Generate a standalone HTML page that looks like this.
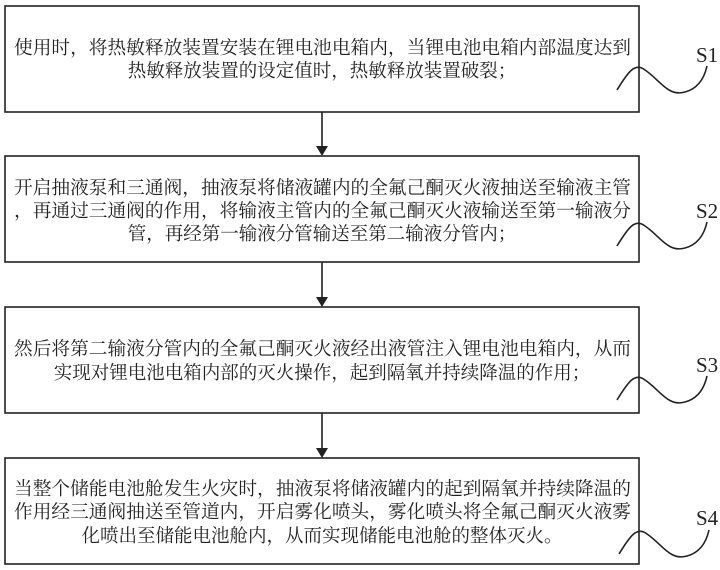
<!DOCTYPE html>
<html><head><meta charset="utf-8"><style>
html,body{margin:0;padding:0;background:#fff;}
svg{display:block;}
.t{font-family:"Liberation Serif","Noto Serif CJK SC",serif;font-size:18.5px;fill:#222;}
.s{font-family:"Liberation Serif",serif;font-size:21px;fill:#222;}
</style></head><body>
<svg width="720" height="570" viewBox="0 0 720 570" xmlns="http://www.w3.org/2000/svg">
<g fill="none" stroke="#222" stroke-width="1.6">
<rect x="5" y="6" width="634" height="106"/>
<rect x="5" y="156" width="634" height="106"/>
<rect x="5" y="307" width="634" height="106"/>
<rect x="5" y="458" width="634" height="106"/>
<line x1="322" y1="112" x2="322" y2="148"/>
<line x1="322" y1="262" x2="322" y2="299"/>
<line x1="322" y1="413" x2="322" y2="450"/>
<path d="M617 90 C628 72,635 62,645 70 C660 80,668 97,685 92 C700 88,705 75,707 66"/>
<path d="M617 246 C628 228,635 218,645 226 C660 236,668 253,685 248 C700 244,705 231,707 222"/>
<path d="M617 400 C628 382,635 372,645 380 C660 390,668 407,685 402 C700 398,705 385,707 376"/>
<path d="M619 554 C630 536,637 526,647 534 C662 544,670 561,687 556 C702 552,707 539,709 530"/>
</g>
<g fill="#222">
<polygon points="316,146 328,146 322,156"/>
<polygon points="316,297 328,297 322,307"/>
<polygon points="316,448 328,448 322,458"/>
</g>
<text class="t" x="14" y="54" textLength="617" lengthAdjust="spacingAndGlyphs">使用时，将热敏释放装置安装在锂电池电箱内，当锂电池电箱内部温度达到</text>
<text class="t" x="322" y="77" text-anchor="middle">热敏释放装置的设定值时，热敏释放装置破裂；</text>
<text class="t" x="14" y="194" textLength="617" lengthAdjust="spacingAndGlyphs">开启抽液泵和三通阀，抽液泵将储液罐内的全氟己酮灭火液抽送至输液主管</text>
<text class="t" x="14" y="217" textLength="617" lengthAdjust="spacingAndGlyphs">，再通过三通阀的作用，将输液主管内的全氟己酮灭火液输送至第一输液分</text>
<text class="t" x="322" y="240" text-anchor="middle">管，再经第一输液分管输送至第二输液分管内；</text>
<text class="t" x="14" y="355" textLength="617" lengthAdjust="spacingAndGlyphs">然后将第二输液分管内的全氟己酮灭火液经出液管注入锂电池电箱内，从而</text>
<text class="t" x="322" y="379" text-anchor="middle">实现对锂电池电箱内部的灭火操作，起到隔氧并持续降温的作用；</text>
<text class="t" x="14" y="495" textLength="617" lengthAdjust="spacingAndGlyphs">当整个储能电池舱发生火灾时，抽液泵将储液罐内的起到隔氧并持续降温的</text>
<text class="t" x="14" y="518" textLength="617" lengthAdjust="spacingAndGlyphs">作用经三通阀抽送至管道内，开启雾化喷头，雾化喷头将全氟己酮灭火液雾</text>
<text class="t" x="322" y="542" text-anchor="middle">化喷出至储能电池舱内，从而实现储能电池舱的整体灭火。</text>
<text class="s" x="696" y="62">S1</text>
<text class="s" x="696" y="218">S2</text>
<text class="s" x="696" y="372">S3</text>
<text class="s" x="696" y="525">S4</text>
</svg>
</body></html>
